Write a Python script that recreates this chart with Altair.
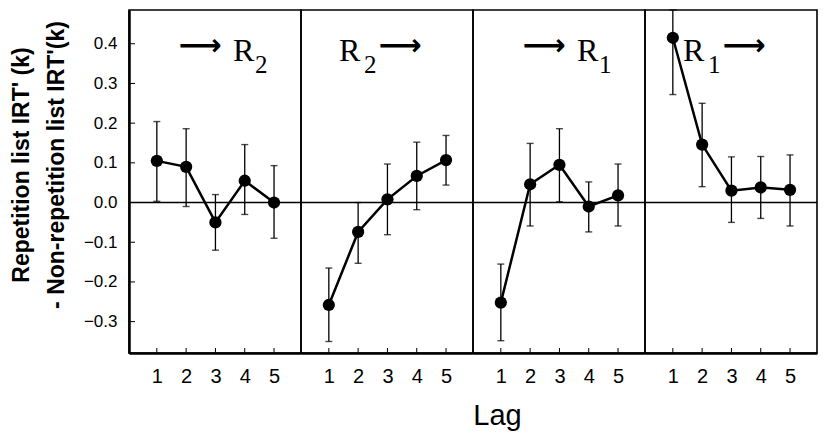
import altair as alt
import pandas as pd

# ---------------- data ----------------
lags = [1, 2, 3, 4, 5]

mean_p1 = [0.105, 0.090, -0.050, 0.055, 0.000]
lo_p1 = [0.003, -0.010, -0.120, -0.030, -0.090]
hi_p1 = [0.204, 0.186, 0.020, 0.146, 0.093]

mean_p2 = [-0.258, -0.074, 0.008, 0.067, 0.107]
lo_p2 = [-0.350, -0.153, -0.081, -0.018, 0.044]
hi_p2 = [-0.165, 0.000, 0.097, 0.152, 0.169]

mean_p3 = [-0.252, 0.046, 0.095, -0.010, 0.018]
lo_p3 = [-0.348, -0.059, 0.002, -0.074, -0.059]
hi_p3 = [-0.155, 0.149, 0.186, 0.052, 0.097]

mean_p4 = [0.415, 0.146, 0.030, 0.038, 0.032]
lo_p4 = [0.272, 0.040, -0.050, -0.040, -0.059]
hi_p4 = [0.485, 0.250, 0.115, 0.116, 0.120]

means = [mean_p1, mean_p2, mean_p3, mean_p4]
los = [lo_p1, lo_p2, lo_p3, lo_p4]
his = [hi_p1, hi_p2, hi_p3, hi_p4]

y_ticks = [-0.3, -0.2, -0.1, 0.0, 0.1, 0.2, 0.3, 0.4]

# panel labels: arrow side and subscript digit
panel_order = ["arrow_first", "R_first", "arrow_first", "R_first"]
panel_digits = ["2", "2", "1", "1"]

y_title = ["Repetition list IRT' (k)", "- Non-repetition list IRT'(k)"]
x_title = "Lag"

# ---------------- layout ----------------
W, H = 172, 343
XMIN, XMAX = 0.05, 5.92
YMIN, YMAX = -0.379, 0.485
xscale = alt.Scale(domain=[XMIN, XMAX], nice=False, zero=False)
yscale = alt.Scale(domain=[YMIN, YMAX], nice=False, zero=False)
SANS = "Liberation Sans"
SERIF = "Liberation Serif"
PX_X = (XMAX - XMIN) / W
PX_Y = (YMAX - YMIN) / H


def px_x(p):
    return XMIN + p * PX_X


def px_y(p):
    return YMAX - p * PX_Y


def panel(i):
    if i == 0:
        yaxis = alt.Axis(
            values=y_ticks, format=".1f", ticks=False, grid=False,
            domain=True, domainWidth=2.5, domainColor="black",
            labelFont=SANS, labelFontSize=17, labelColor="black", labelPadding=12,
            title="",
        )
    else:
        yaxis = None
    if i == 1:
        xaxis = alt.Axis(
            values=lags, format="d", ticks=False, grid=False,
            domain=True, domainWidth=2.5, domainColor="black",
            labelFont=SANS, labelFontSize=20, labelColor="black", labelPadding=13,
            title=x_title, titleFont=SANS, titleFontSize=29, titleFontWeight="normal",
            titleColor="black", titleX=196, titleY=48,
        )
    else:
        xaxis = alt.Axis(
            values=lags, format="d", ticks=False, grid=False,
            domain=True, domainWidth=2.5, domainColor="black",
            labelFont=SANS, labelFontSize=20, labelColor="black", labelPadding=13,
            title="",
        )
    XE = alt.X("x:Q", scale=xscale, axis=xaxis)
    YE = alt.Y("y:Q", scale=yscale, axis=yaxis)

    main = pd.DataFrame({"x": lags, "y": means[i]})
    errs = pd.DataFrame({"x": lags, "y": los[i], "y2": his[i]})
    caps = pd.DataFrame({"x": lags + lags, "y": los[i] + his[i]})
    zero = pd.DataFrame({"x": [XMIN], "x2": [XMAX], "y": [0.0]})
    xticks = pd.DataFrame({"x": lags, "y": [YMIN] * 5, "y2": [px_y(H - 5)] * 5})

    layers = [
        alt.Chart(zero).mark_rule(color="black", strokeWidth=1.6).encode(x=XE, x2="x2:Q", y=YE),
        alt.Chart(xticks).mark_rule(color="black", strokeWidth=1).encode(x=XE, y=YE, y2="y2:Q"),
        alt.Chart(errs).mark_rule(color="black", strokeWidth=1.3).encode(x=XE, y=YE, y2="y2:Q"),
        alt.Chart(caps).mark_tick(color="black", thickness=1.4, size=7, orient="horizontal").encode(x=XE, y=YE),
        alt.Chart(main).mark_line(color="black", strokeWidth=2.5).encode(x=XE, y=YE),
        alt.Chart(main).mark_circle(color="black", size=150, opacity=1).encode(x=XE, y=YE),
    ]
    if i == 0:
        ydf = pd.DataFrame({"y": y_ticks, "x": [XMIN] * len(y_ticks), "x2": [px_x(6)] * len(y_ticks)})
        layers.append(alt.Chart(ydf).mark_rule(color="black", strokeWidth=1).encode(x=XE, x2="x2:Q", y=YE))
        tdf = pd.DataFrame({"x": [px_x(-107)], "y": [px_y(155)]})
        layers.append(
            alt.Chart(tdf).mark_text(
                text=y_title, font=SANS, fontSize=23, fontWeight="bold", color="black",
                angle=270, lineHeight=35, align="center", baseline="middle"
            ).encode(x=XE, y=YE)
        )

    # panel annotation (arrow, R, subscript digit)
    if panel_order[i] == "arrow_first":
        arrow_x, r_x, s_x = 71, 104, 126
    else:
        r_x, s_x, arrow_x = 38, 63, 99
    layers.append(
        alt.Chart(pd.DataFrame({"t": ["\u27f6"], "x": [px_x(arrow_x)], "y": [px_y(36)]})).mark_text(
            font="DejaVu Sans", fontWeight="bold", fontSize=30, color="black",
            align="center", baseline="middle"
        ).encode(text="t:N", x=XE, y=YE)
    )
    layers.append(
        alt.Chart(pd.DataFrame({"t": ["R"], "x": [px_x(r_x)], "y": [px_y(51)]})).mark_text(
            font=SERIF, fontSize=32, color="black", align="left", baseline="alphabetic"
        ).encode(text="t:N", x=XE, y=YE)
    )
    layers.append(
        alt.Chart(pd.DataFrame({"t": [panel_digits[i]], "x": [px_x(s_x)], "y": [px_y(63)]})).mark_text(
            font=SERIF, fontSize=25, color="black", align="left", baseline="alphabetic"
        ).encode(text="t:N", x=XE, y=YE)
    )
    return alt.layer(*layers).properties(width=W, height=H)


chart = alt.hconcat(*[panel(i) for i in range(4)], spacing=0, bounds="flush").configure_view(
    stroke="black", strokeWidth=1.6
).properties(padding={"left": 2, "top": 0, "right": 0, "bottom": 0})

chart.save("out.html", embed_options={"renderer": "svg", "actions": False})
